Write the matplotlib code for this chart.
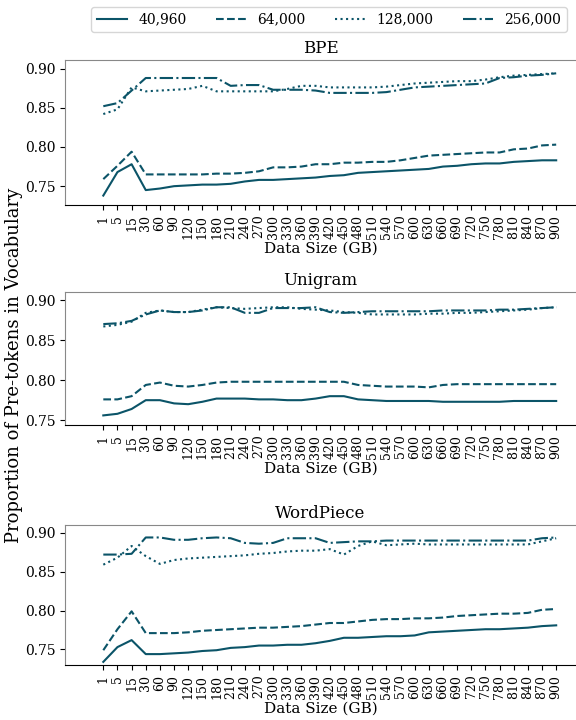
import numpy as np
import matplotlib
matplotlib.use("Agg")
import matplotlib.pyplot as plt

plt.rcParams['font.family'] = 'serif'

sizes = ["1", "5", "15"] + [str(v) for v in range(30, 901, 30)]
vocab_labels = ["40,960", "64,000", "128,000", "256,000"]
styles = ["-", "--", ":", "-."]

bpe_40960 = [0.738, 0.768, 0.778, 0.745, 0.747, 0.750, 0.751, 0.752, 0.752, 0.753, 0.756,
             0.758, 0.758, 0.759, 0.760, 0.761, 0.763, 0.764, 0.767, 0.768, 0.769, 0.770,
             0.771, 0.772, 0.775, 0.776, 0.778, 0.779, 0.779, 0.781, 0.782, 0.783, 0.783]
bpe_64000 = [0.759, 0.776, 0.794, 0.765, 0.765, 0.765, 0.765, 0.765, 0.766, 0.766, 0.767,
             0.769, 0.774, 0.774, 0.775, 0.778, 0.778, 0.780, 0.780, 0.781, 0.781, 0.783,
             0.786, 0.789, 0.790, 0.791, 0.792, 0.793, 0.793, 0.797, 0.798, 0.802, 0.803]
bpe_128000 = [0.842, 0.848, 0.876, 0.871, 0.872, 0.873, 0.874, 0.878, 0.871, 0.871, 0.871,
              0.871, 0.871, 0.874, 0.878, 0.878, 0.876, 0.876, 0.876, 0.876, 0.877, 0.879,
              0.881, 0.882, 0.883, 0.884, 0.884, 0.886, 0.889, 0.891, 0.892, 0.893, 0.894]
bpe_256000 = [0.852, 0.856, 0.872, 0.888, 0.888, 0.888, 0.888, 0.888, 0.888, 0.878, 0.879,
              0.879, 0.873, 0.873, 0.873, 0.872, 0.869, 0.869, 0.869, 0.869, 0.870, 0.873,
              0.876, 0.877, 0.878, 0.879, 0.880, 0.881, 0.888, 0.889, 0.891, 0.892, 0.894]

uni_40960 = [0.756, 0.758, 0.764, 0.775, 0.775, 0.771, 0.770, 0.773, 0.777, 0.777, 0.777,
             0.776, 0.776, 0.775, 0.775, 0.777, 0.780, 0.780, 0.776, 0.775, 0.774, 0.774,
             0.774, 0.774, 0.773, 0.773, 0.773, 0.773, 0.773, 0.774, 0.774, 0.774, 0.774]
uni_64000 = [0.776, 0.776, 0.780, 0.794, 0.797, 0.793, 0.792, 0.794, 0.797, 0.798, 0.798,
             0.798, 0.798, 0.798, 0.798, 0.798, 0.798, 0.798, 0.794, 0.793, 0.792, 0.792,
             0.792, 0.791, 0.794, 0.795, 0.795, 0.795, 0.795, 0.795, 0.795, 0.795, 0.795]
uni_128000 = [0.867, 0.869, 0.873, 0.884, 0.887, 0.885, 0.885, 0.888, 0.891, 0.890, 0.889,
              0.890, 0.891, 0.891, 0.889, 0.888, 0.887, 0.885, 0.884, 0.882, 0.882, 0.882,
              0.882, 0.883, 0.883, 0.884, 0.884, 0.885, 0.886, 0.887, 0.888, 0.890, 0.891]
uni_256000 = [0.870, 0.871, 0.874, 0.882, 0.887, 0.885, 0.885, 0.887, 0.891, 0.891, 0.884,
              0.884, 0.890, 0.890, 0.890, 0.891, 0.885, 0.884, 0.885, 0.886, 0.886, 0.886,
              0.886, 0.886, 0.887, 0.887, 0.887, 0.887, 0.888, 0.888, 0.889, 0.890, 0.891]

wp_40960 = [0.734, 0.753, 0.762, 0.744, 0.744, 0.745, 0.746, 0.748, 0.749, 0.752, 0.753,
            0.755, 0.755, 0.756, 0.756, 0.758, 0.761, 0.765, 0.765, 0.766, 0.767, 0.767,
            0.768, 0.772, 0.773, 0.774, 0.775, 0.776, 0.776, 0.777, 0.778, 0.780, 0.781]
wp_64000 = [0.749, 0.776, 0.799, 0.771, 0.771, 0.771, 0.772, 0.774, 0.775, 0.776, 0.777,
            0.778, 0.778, 0.779, 0.780, 0.782, 0.784, 0.784, 0.786, 0.788, 0.789, 0.789,
            0.790, 0.790, 0.791, 0.793, 0.794, 0.795, 0.796, 0.796, 0.797, 0.801, 0.802]
wp_128000 = [0.859, 0.868, 0.883, 0.870, 0.860, 0.865, 0.867, 0.868, 0.869, 0.870, 0.871,
             0.873, 0.874, 0.876, 0.877, 0.877, 0.879, 0.872, 0.883, 0.889, 0.884, 0.885,
             0.886, 0.885, 0.885, 0.885, 0.885, 0.885, 0.885, 0.885, 0.885, 0.889, 0.893]
wp_256000 = [0.872, 0.872, 0.873, 0.894, 0.894, 0.891, 0.891, 0.893, 0.894, 0.893, 0.887,
             0.886, 0.887, 0.893, 0.893, 0.893, 0.887, 0.888, 0.889, 0.889, 0.890, 0.890,
             0.890, 0.890, 0.890, 0.890, 0.890, 0.890, 0.890, 0.890, 0.890, 0.893, 0.894]

panels = [
    ("BPE", [bpe_40960, bpe_64000, bpe_128000, bpe_256000], (0.726, 0.911)),
    ("Unigram", [uni_40960, uni_64000, uni_128000, uni_256000], (0.744, 0.910)),
    ("WordPiece", [wp_40960, wp_64000, wp_128000, wp_256000], (0.730, 0.910)),
]
# axes boxes in figure fractions
boxes = [[0.113, 0.7153, 0.887, 0.2014],
         [0.113, 0.4097, 0.887, 0.1847],
         [0.113, 0.0764, 0.887, 0.1944]]

color = "#0b5468"
fig = plt.figure(figsize=(5.76, 7.2), dpi=100)
x = np.arange(len(sizes))

for (title, series, ylim), box in zip(panels, boxes):
    ax = fig.add_axes(box)
    for vals, ls, lab in zip(series, styles, vocab_labels):
        ax.plot(x, vals, ls, color=color, lw=1.5, label=lab)
    ax.set_title(title, fontsize=12, pad=5)
    ax.set_xticks(x)
    ax.set_xticklabels(sizes, rotation=90, fontsize=9)
    ax.set_xlim(-2.7, 33.4)
    ax.set_ylim(*ylim)
    ax.set_yticks([0.75, 0.80, 0.85, 0.90])
    ax.tick_params(axis="y", labelsize=10)
    ax.set_xlabel("Data Size (GB)", fontsize=11, labelpad=2)
    ax.spines["right"].set_visible(False)
    for s in ["top", "left"]:
        ax.spines[s].set_color("#888888")

handles, labels = ax.get_legend_handles_labels()
fig.legend(handles, labels, loc="upper center", bbox_to_anchor=(0.571, 1.0),
           ncol=4, fontsize=10, frameon=True, columnspacing=2.1, handlelength=2.2)
fig.text(0.025, 0.493, "Proportion of Pre-tokens in Vocabulary", rotation=90,
         ha="center", va="center", fontsize=13)

fig.savefig("out.png", dpi=100)
